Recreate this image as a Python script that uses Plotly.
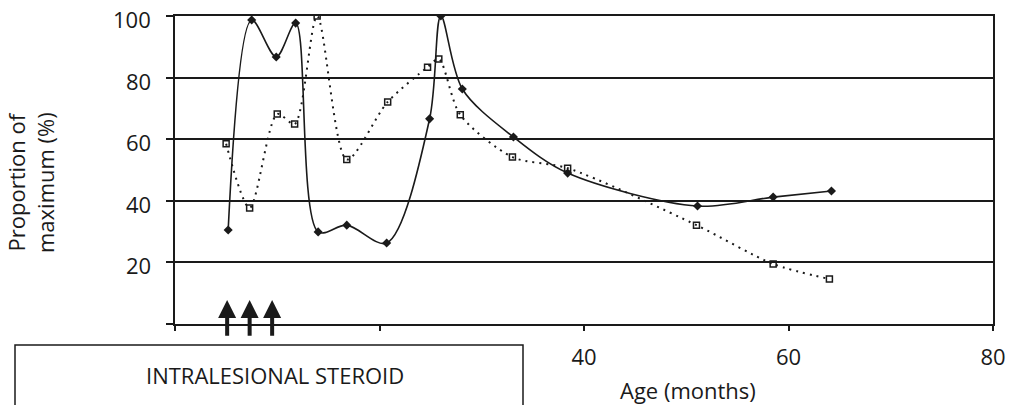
import plotly.graph_objects as go

# Age (months) and proportion of maximum (%) for the two measured series
age_solid = [5.2, 7.5, 9.9, 11.8, 14.0, 16.8, 20.7, 24.9, 26.0, 28.1, 33.1, 38.4, 51.1, 58.5, 64.2]
prop_solid = [30.5, 98.7, 86.7, 97.7, 29.9, 32.1, 26.3, 66.6, 100.0, 76.3, 60.7, 49.0, 38.3, 41.2, 43.2]

age_dotted = [5.0, 7.3, 10.0, 11.7, 13.9, 16.8, 20.8, 24.7, 25.8, 27.9, 33.0, 38.4, 51.0, 58.5, 64.0]
prop_dotted = [58.5, 37.7, 68.2, 64.9, 100.0, 53.4, 72.1, 83.4, 86.0, 67.9, 54.2, 50.6, 32.1, 19.5, 14.6]

# Months at which intralesional steroid was injected
injection_months = [5.1, 7.3, 9.5]

x_ticks = [0, 20, 40, 60, 80]
x_ticktext = ["", "", "40", "60", "80"]
y_ticks = [0, 20, 40, 60, 80, 100]
y_ticktext = ["", "20", "40", "60", "80", "100"]

INK = "#1a1a1a"
FONT = "Open Sans"
SIZE = 22

# Plot area: 175..993 px across, 16..324 px down, in a 1010 x 405 page
W, H = 1010, 405
L, R, B = 175, 17, 81
TOP = 16
area_h = H - B                      # height of layout area with zero top margin
y_dom_top = (area_h - TOP) / area_h


def px_x(px):
    return (px - L) / (W - L - R)


def px_y(py):
    return (area_h - py) / area_h


fig = go.Figure()

fig.add_trace(go.Scatter(
    x=age_dotted, y=prop_dotted, mode="lines+markers",
    line=dict(color=INK, width=2, dash="2px,5px", shape="spline", smoothing=0.8),
    marker=dict(symbol="square-open", size=6, color=INK, line=dict(width=1.5, color=INK)),
    showlegend=False,
))
fig.add_trace(go.Scatter(
    x=age_solid, y=prop_solid, mode="lines+markers",
    line=dict(color=INK, width=1.6, shape="spline", smoothing=0.9),
    marker=dict(symbol="diamond", size=7, color=INK),
    showlegend=False,
))

annotations = []
for m in injection_months:
    annotations.append(dict(
        x=m, y=7.8, ax=m, ay=-4.3, xref="x", yref="y", axref="x", ayref="y",
        text="", showarrow=True, arrowhead=2, arrowsize=0.9, arrowwidth=4,
        arrowcolor=INK, standoff=0, startstandoff=0,
    ))

# y tick labels, right-aligned just left of the tick marks
for v, t in zip(y_ticks, y_ticktext):
    if t:
        annotations.append(dict(
            text=t, xref="paper", yref="y", x=px_x(153), y=v,
            xanchor="right", yanchor="middle", yshift=-3, showarrow=False,
            font=dict(family=FONT, size=SIZE, color=INK),
        ))

annotations += [
    dict(text="Proportion of<br>maximum (%)", xref="paper", yref="paper",
         x=px_x(30), y=px_y(183), xanchor="center", yanchor="middle", textangle=-90,
         showarrow=False, font=dict(family=FONT, size=SIZE, color=INK)),
    dict(text="Age (months)", xref="paper", yref="paper",
         x=px_x(688), y=px_y(390), xanchor="center", yanchor="middle",
         showarrow=False, font=dict(family=FONT, size=SIZE, color=INK)),
    dict(text="INTRALESIONAL STEROID", xref="paper", yref="paper",
         x=px_x(275), y=px_y(375), xanchor="center", yanchor="middle",
         showarrow=False, font=dict(family=FONT, size=SIZE, color=INK)),
]

fig.update_layout(
    width=W, height=H,
    margin=dict(l=L, r=R, t=0, b=B),
    paper_bgcolor="white", plot_bgcolor="white",
    font=dict(family=FONT, size=SIZE, color=INK),
    annotations=annotations,
    shapes=[dict(type="rect", xref="paper", yref="paper",
                 x0=px_x(15), x1=px_x(523), y0=px_y(345), y1=px_y(420),
                 line=dict(color=INK, width=1.5), fillcolor="white", layer="above")],
    xaxis=dict(range=[0, 80], tickvals=x_ticks, ticktext=x_ticktext,
               ticks="outside", ticklen=5, tickwidth=1.5, tickcolor=INK,
               ticklabelstandoff=8,
               showline=True, linecolor=INK, linewidth=2, mirror=True,
               showgrid=False, zeroline=False),
    yaxis=dict(range=[0, 100], domain=[0, y_dom_top],
               tickvals=y_ticks, showticklabels=False,
               ticks="outside", ticklen=7, tickwidth=1.5, tickcolor=INK,
               showline=True, linecolor=INK, linewidth=2, mirror=True,
               showgrid=True, gridcolor=INK, gridwidth=2, zeroline=False),
)

fig.write_html("out.html")
